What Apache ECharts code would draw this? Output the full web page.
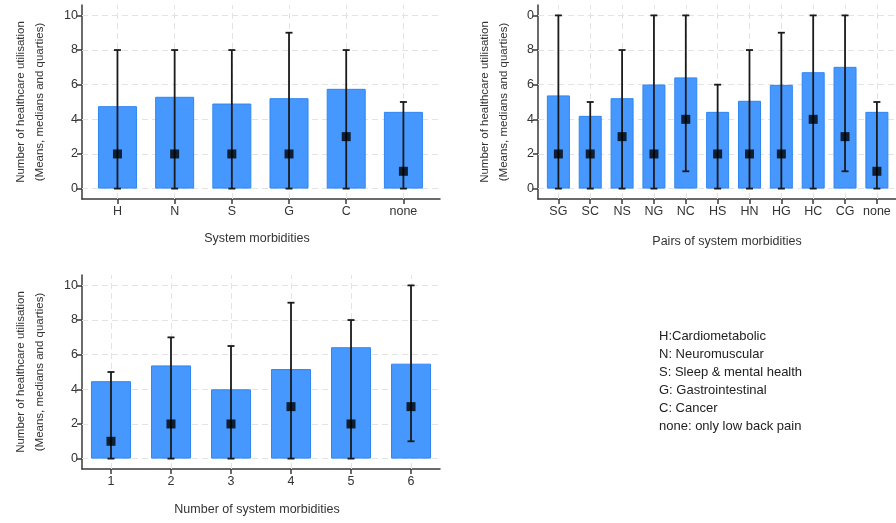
<!DOCTYPE html>
<html>
<head>
<meta charset="utf-8">
<script src="https://cdn.jsdelivr.net/npm/echarts@6/dist/echarts.min.js"></script>
<style>
html,body{margin:0;padding:0;background:#fff;}
#c{width:896px;height:523px;}
</style>
</head>
<body>
<div id="c"></div>
<script>
// ---- Data ----
const yTicks = [0, 2, 4, 6, 8, 10];
const yTickLabelsA = ['0', '2', '4', '6', '8', '10'];
const yTickLabelsB = ['0', '2', '4', '6', '8', '0']; // as shown (cropped "10")

const singleCats = ['H', 'N', 'S', 'G', 'C', 'none'];
const singleMean = [4.76, 5.3, 4.91, 5.22, 5.76, 4.43];
const singleMedian = [2, 2, 2, 2, 3, 1];
const singleQ1 = [0, 0, 0, 0, 0, 0];
const singleQ3 = [8, 8, 8, 9, 8, 5];

const pairCats = ['SG', 'SC', 'NS', 'NG', 'NC', 'HS', 'HN', 'HG', 'HC', 'CG', 'none'];
const pairMean = [5.38, 4.2, 5.22, 6.01, 6.42, 4.43, 5.07, 5.99, 6.72, 7.03, 4.43];
const pairMedian = [2, 2, 3, 2, 4, 2, 2, 2, 4, 3, 1];
const pairQ1 = [0, 0, 0, 0, 1, 0, 0, 0, 0, 1, 0];
const pairQ3 = [10, 5, 8, 10, 10, 6, 8, 9, 10, 10, 5];

const countCats = ['1', '2', '3', '4', '5', '6'];
const countMean = [4.47, 5.38, 4.0, 5.17, 6.43, 5.48];
const countMedian = [1, 2, 2, 3, 2, 3];
const countQ1 = [0, 0, 0, 0, 0, 1];
const countQ3 = [5, 7, 6.5, 9, 8, 10];

const yAxisTitle = 'Number of healthcare utilisation\n(Means, medians and quarties)';
const legendLines = [
  'H:Cardiometabolic',
  'N: Neuromuscular',
  'S: Sleep & mental health',
  'G: Gastrointestinal',
  'C: Cancer',
  'none: only low back pain'
];

// ---- Build ----
const FONT = '"Liberation Sans", Arial, sans-serif';
const TXT = '#333';
const AX = '#3a3a3a';
const GRID = '#e3e3e3';

const panels = [
  { cats: singleCats, mean: singleMean, med: singleMedian, q1: singleQ1, q3: singleQ3,
    grid: { left: 82, top: 5, width: 358, height: 194 }, xmin: 0.38, xmax: 6.64, barW: 39,
    xName: 'System morbidities', yLabels: yTickLabelsA, yNameGap: 33, xNameGap: 33, xNamePad: [0, 8, 0, 0] },
  { cats: pairCats, mean: pairMean, med: pairMedian, q1: pairQ1, q3: pairQ3,
    grid: { left: 538, top: 5, width: 358, height: 194 }, xmin: 0.36, xmax: 11.6, barW: 23,
    xName: 'Pairs of system morbidities', yLabels: yTickLabelsB, yNameGap: 25, xNameGap: 36, xNamePad: [0, 0, 0, 20] },
  { cats: countCats, mean: countMean, med: countMedian, q1: countQ1, q3: countQ3,
    grid: { left: 82, top: 275, width: 358, height: 194 }, xmin: 0.517, xmax: 6.483, barW: 40,
    xName: 'Number of system morbidities', yLabels: yTickLabelsA, yNameGap: 33, xNameGap: 34, xNamePad: [0, 8, 0, 0] }
];

const grids = [], xAxes = [], yAxes = [], series = [];

panels.forEach((p, i) => {
  const pos = p.cats.map((c, k) => k + 1);
  grids.push(Object.assign({ containLabel: false }, p.grid));
  xAxes.push({
    type: 'value', gridIndex: i, min: p.xmin, max: p.xmax,
    name: p.xName, nameLocation: 'middle', nameGap: p.xNameGap,
    nameTextStyle: { fontFamily: FONT, fontSize: 12.5, color: TXT, padding: p.xNamePad },
    axisLine: { show: true, onZero: false, lineStyle: { color: AX, width: 1.5 } },
    axisTick: { show: true, customValues: pos, length: 5, lineStyle: { color: AX, width: 1.5 } },
    axisLabel: { customValues: pos, margin: 6, fontFamily: FONT, fontSize: 12.5, color: TXT,
      formatter: v => p.cats[Math.round(v) - 1] },
    splitLine: { show: false }
  });
  yAxes.push({
    type: 'value', gridIndex: i, min: -0.6, max: 10.6,
    name: yAxisTitle, nameLocation: 'middle', nameGap: p.yNameGap, nameRotate: 90,
    nameTextStyle: { fontFamily: FONT, fontSize: 11.5, color: TXT, lineHeight: 19 },
    axisLine: { show: true, onZero: false, lineStyle: { color: AX, width: 1.5 } },
    axisTick: { show: true, customValues: yTicks, length: 5, lineStyle: { color: AX, width: 1.5 } },
    axisLabel: { customValues: yTicks, margin: 4, fontFamily: FONT, fontSize: 12.5, color: TXT,
      formatter: v => p.yLabels[yTicks.indexOf(Math.round(v))] },
    splitLine: { show: false }
  });
  // gridlines
  series.push({
    type: 'line', xAxisIndex: i, yAxisIndex: i, z: 1, silent: true,
    data: [[pos[0], 0]], showSymbol: false, lineStyle: { width: 0 },
    markLine: {
      z: 1, silent: true, symbol: ['none', 'none'], label: { show: false }, animation: false,
      lineStyle: { color: GRID, type: [6, 4], width: 1 },
      data: yTicks.map(v => ({ yAxis: v })).concat(pos.map(v => ({ xAxis: v })))
    }
  });
  // bars (means)
  series.push({
    type: 'bar', xAxisIndex: i, yAxisIndex: i, z: 3, barWidth: p.barW,
    itemStyle: { color: '#4698ff', borderColor: '#2f86f2', borderWidth: 1 },
    data: p.mean.map((m, k) => [pos[k], m])
  });
  // quartile whiskers
  series.push({
    type: 'custom', xAxisIndex: i, yAxisIndex: i, z: 4,
    data: p.q1.map((lo, k) => [pos[k], lo, p.q3[k]]),
    renderItem: (params, api) => {
      const x = api.value(0);
      const lo = api.coord([x, api.value(1)]);
      const hi = api.coord([x, api.value(2)]);
      const hw = 3.5;
      const st = { stroke: '#1a1a1a', lineWidth: 1.8 };
      return { type: 'group', children: [
        { type: 'line', shape: { x1: lo[0], y1: lo[1], x2: hi[0], y2: hi[1] }, style: st },
        { type: 'line', shape: { x1: hi[0] - hw, y1: hi[1], x2: hi[0] + hw, y2: hi[1] }, style: st },
        { type: 'line', shape: { x1: lo[0] - hw, y1: lo[1], x2: lo[0] + hw, y2: lo[1] }, style: st }
      ] };
    }
  });
  // medians
  series.push({
    type: 'scatter', xAxisIndex: i, yAxisIndex: i, z: 5, symbol: 'rect', symbolSize: 9,
    itemStyle: { color: '#000' },
    data: p.med.map((m, k) => [pos[k], m])
  });
});

const chart = echarts.init(document.getElementById('c'), null, { renderer: 'canvas' });
chart.setOption({
  animation: false,
  backgroundColor: '#fff',
  grid: grids, xAxis: xAxes, yAxis: yAxes, series: series,
  graphic: legendLines.map((t, k) => ({
    type: 'text', left: 659, top: 330 + k * 18,
    style: { text: t, fontFamily: FONT, fontSize: 13, fill: '#222' }
  }))
});
</script>
</body>
</html>
